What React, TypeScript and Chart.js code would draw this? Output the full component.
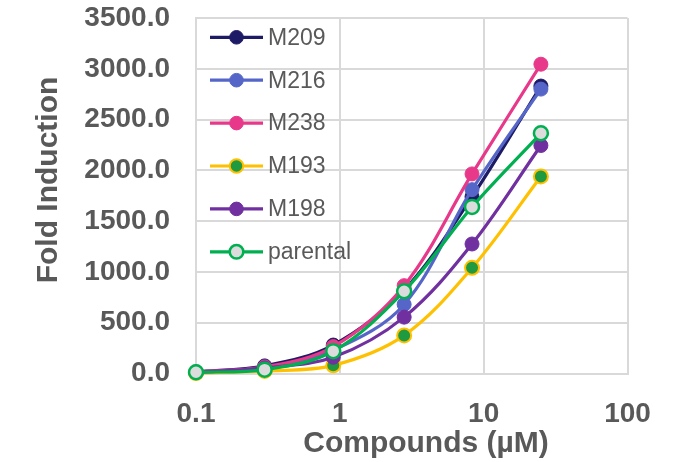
import React, { useEffect, useRef } from "react";
import { Chart, registerables } from "chart.js";

Chart.register(...registerables);

const concentrations = [0.1, 0.3, 0.9, 2.8, 8.3, 25];
const seriesNames = ["M209", "M216", "M238", "M193", "M198", "parental"];
const m209 = [15, 75, 280, 820, 1740, 2830];
const m216 = [12, 60, 230, 680, 1810, 2800];
const m238 = [15, 65, 265, 865, 1965, 3045];
const m193 = [5, 25, 80, 375, 1040, 1940];
const m198 = [10, 55, 160, 555, 1275, 2245];
const parental = [12, 38, 220, 810, 1640, 2365];
const xTickValues = [0.1, 1, 10, 100];
const yTitle = "Fold Induction";
const xTitle = "Compounds (µM)";

const lineColors = ["#1e1b66", "#5566c8", "#e8388a", "#ffc000", "#7030a0", "#00b050"];
const pointFills = ["#1e1b66", "#5566c8", "#e8388a", "#1f9a40", "#7030a0", "#dcdcdc"];
const pointBorders = ["#1e1b66", "#5566c8", "#e8388a", "#ffc000", "#7030a0", "#00b050"];
const pointBorderWidths = [1, 1, 1, 2, 1, 2.5];

const TEXT = "#595959";
const FONT = "'Liberation Sans', Arial, sans-serif";

export default function App() {
  const ref = useRef<HTMLCanvasElement | null>(null);

  useEffect(() => {
    document.body.style.margin = "0";
    const canvas = ref.current;
    if (!canvas) return;
    const allSeries = [m209, m216, m238, m193, m198, parental];

    const legendPlugin = {
      id: "customLegend",
      afterDatasetsDraw(chart: any) {
        const ctx = chart.ctx;
        ctx.save();
        seriesNames.forEach((name, i) => {
          const y = 37.3 + i * 42.9;
          ctx.strokeStyle = lineColors[i];
          ctx.lineWidth = 3.2;
          ctx.beginPath();
          ctx.moveTo(210, y);
          ctx.lineTo(263, y);
          ctx.stroke();
          ctx.beginPath();
          ctx.arc(236.5, y, 6.8, 0, Math.PI * 2);
          ctx.fillStyle = pointFills[i];
          ctx.fill();
          ctx.lineWidth = pointBorderWidths[i];
          ctx.strokeStyle = pointBorders[i];
          ctx.stroke();
          ctx.fillStyle = TEXT;
          ctx.font = `23px ${FONT}`;
          ctx.textAlign = "left";
          ctx.textBaseline = "middle";
          ctx.fillText(name, 268, y + 1);
        });
        ctx.restore();
      },
    };

    const titlePlugin = {
      id: "axisTitles",
      afterDraw(chart: any) {
        const ctx = chart.ctx;
        ctx.save();
        ctx.fillStyle = TEXT;
        ctx.font = `bold 30px ${FONT}`;
        ctx.textAlign = "center";
        ctx.textBaseline = "alphabetic";
        ctx.fillText(xTitle, 426, 451.5);
        ctx.translate(56.5, 180);
        ctx.rotate(-Math.PI / 2);
        ctx.fillText(yTitle, 0, 0);
        ctx.restore();
      },
    };

    const chart = new Chart(canvas, {
      type: "line",
      data: {
        datasets: seriesNames.map((name, i) => ({
          label: name,
          data: concentrations.map((c, j) => ({ x: c, y: allSeries[i][j] })),
          borderColor: lineColors[i],
          backgroundColor: pointFills[i],
          pointBackgroundColor: pointFills[i],
          pointBorderColor: pointBorders[i],
          pointBorderWidth: pointBorderWidths[i],
          pointRadius: 7,
          borderWidth: 3.2,
          tension: 0.35,
          fill: false,
          clip: false,
          order: seriesNames.length - i,
        })),
      },
      plugins: [legendPlugin, titlePlugin],
      options: {
        animation: false,
        responsive: false,
        maintainAspectRatio: false,
        layout: { padding: { left: 0, right: 54.5, top: 18, bottom: 0 } },
        plugins: {
          legend: { display: false },
          tooltip: { enabled: false },
        },
        scales: {
          x: {
            type: "logarithmic",
            min: 0.1,
            max: 100,
            afterBuildTicks: (scale: any) => {
              scale.ticks = xTickValues.map((v) => ({ value: v }));
            },
            afterFit: (scale: any) => {
              scale.height = 88.5;
            },
            ticks: {
              color: TEXT,
              font: { family: FONT, size: 28, weight: "bold" },
              padding: 24,
              maxRotation: 0,
              autoSkip: false,
              callback: (v: any) => String(v),
            },
            grid: { color: "#d9d9d9", lineWidth: 2, drawTicks: false },
            border: { color: "#d9d9d9", width: 2 },
          },
          y: {
            min: 0,
            max: 3500,
            afterFit: (scale: any) => {
              scale.width = 196;
              scale.paddingTop = 0;
              scale.paddingBottom = 0;
            },
            ticks: {
              stepSize: 500,
              color: TEXT,
              font: { family: FONT, size: 28, weight: "bold" },
              padding: 26,
              callback: (v: any) => Number(v).toFixed(1),
            },
            grid: { color: "#d9d9d9", lineWidth: 2, drawTicks: false },
            border: { color: "#d9d9d9", width: 2 },
          },
        },
      },
    });
    return () => chart.destroy();
  }, []);

  return (
    <div style={{ width: 682, height: 462, background: "#fff" }}>
      <canvas ref={ref} width={682} height={462} />
    </div>
  );
}
